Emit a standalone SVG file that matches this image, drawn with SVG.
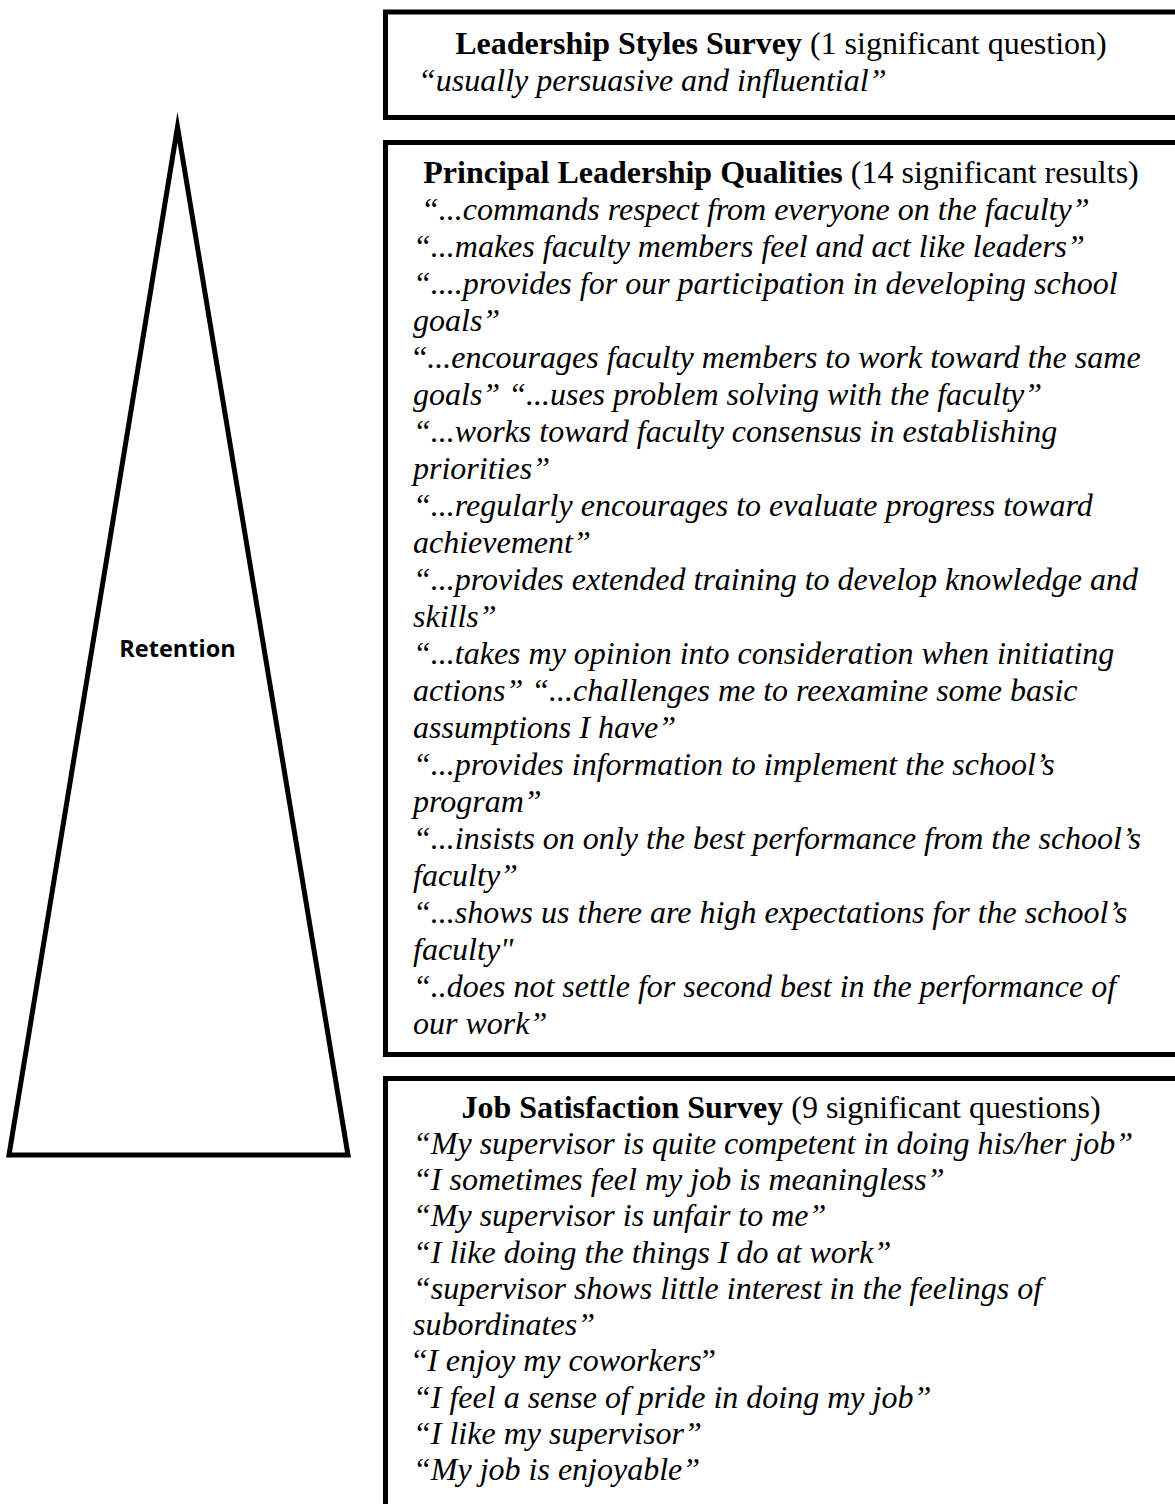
<svg xmlns="http://www.w3.org/2000/svg" width="1175" height="1504" viewBox="0 0 1175 1504">
  <style>
    .frame { fill: #fff; stroke: #000; stroke-width: 5; }
    .tri { fill: #fff; stroke: #000; stroke-width: 5; stroke-linejoin: miter; stroke-miterlimit: 20; }
    .txt { font-family: "Liberation Serif", "Times New Roman", serif; font-size: 32px; fill: #000; }
    .it { font-style: italic; }
    .title { text-anchor: middle; }
    .bold { font-weight: bold; }
    .up { font-style: normal; }
    .lbl { font-family: "Open Sans", "Liberation Sans", sans-serif; font-weight: bold; font-size: 23.5px; text-anchor: middle; fill: #000; }
  </style>
  <rect width="1175" height="1504" fill="#fff"/>

  <!-- retention pyramid -->
  <g id="retention">
    <polygon class="tri" points="177.5,127 9,1155 348,1155"/>
    <text class="lbl" x="177.5" y="657">Retention</text>
  </g>

  <!-- leadership styles survey -->
  <g id="leadership-styles">
    <rect class="frame" x="385.5" y="12" width="800" height="105.5"/>
    <text class="txt title" x="781" y="54"><tspan class="bold">Leadership Styles Survey</tspan> (1 significant question)</text>
    <text class="txt it" x="418" y="91">“usually persuasive and influential”</text>
  </g>

  <!-- principal leadership qualities -->
  <g id="principal-qualities">
    <rect class="frame" x="385.5" y="142.5" width="800" height="912"/>
    <text class="txt title" x="781" y="183"><tspan class="bold">Principal Leadership Qualities</tspan> (14 significant results)</text>
    <g class="txt it">
      <text x="421" y="220">“...commands respect from everyone on the faculty”</text>
      <text x="413" y="257">“...makes faculty members feel and act like leaders”</text>
      <text x="413" y="294">“....provides for our participation in developing school</text>
      <text x="413" y="331">goals”</text>
      <text x="413" y="368"><tspan class="up">“</tspan>...encourages faculty members to work toward the same</text>
      <text x="413" y="405">goals” “...uses problem solving with the faculty”</text>
      <text x="413" y="442">“...works toward faculty consensus in establishing</text>
      <text x="413" y="479">priorities”</text>
      <text x="413" y="516">“...regularly encourages to evaluate progress toward</text>
      <text x="413" y="553">achievement”</text>
      <text x="413" y="590">“...provides extended training to develop knowledge and</text>
      <text x="413" y="627">skills”</text>
      <text x="413" y="664">“...takes my opinion into consideration when initiating</text>
      <text x="413" y="701">actions” “...challenges me to reexamine some basic</text>
      <text x="413" y="738">assumptions I have”</text>
      <text x="413" y="775">“...provides information to implement the school’s</text>
      <text x="413" y="812">program”</text>
      <text x="413" y="849">“...insists on only the best performance from the school’s</text>
      <text x="413" y="886">faculty”</text>
      <text x="413" y="923">“...shows us there are high expectations for the school’s</text>
      <text x="413" y="960">faculty"</text>
      <text x="413" y="997">“..does not settle for second best in the performance of</text>
      <text x="413" y="1034">our work”</text>
    </g>
  </g>

  <!-- job satisfaction survey -->
  <g id="job-satisfaction">
    <rect class="frame" x="385.5" y="1078.5" width="800" height="500"/>
    <text class="txt title" x="781" y="1118"><tspan class="bold">Job Satisfaction Survey</tspan> (9 significant questions)</text>
    <g class="txt it">
      <text x="413" y="1154">“My supervisor is quite competent in doing his/her job”</text>
      <text x="413" y="1190">“I sometimes feel my job is meaningless”</text>
      <text x="413" y="1226">“My supervisor is unfair to me”</text>
      <text x="413" y="1263">“I like doing the things I do at work”</text>
      <text x="413" y="1299">“supervisor shows little interest in the feelings of</text>
      <text x="413" y="1335">subordinates”</text>
      <text x="413" y="1371"><tspan class="up">“</tspan>I enjoy my coworkers<tspan class="up">”</tspan></text>
      <text x="413" y="1408">“I feel a sense of pride in doing my job”</text>
      <text x="413" y="1444">“I like my supervisor”</text>
      <text x="413" y="1480">“My job is enjoyable”</text>
    </g>
  </g>
</svg>
